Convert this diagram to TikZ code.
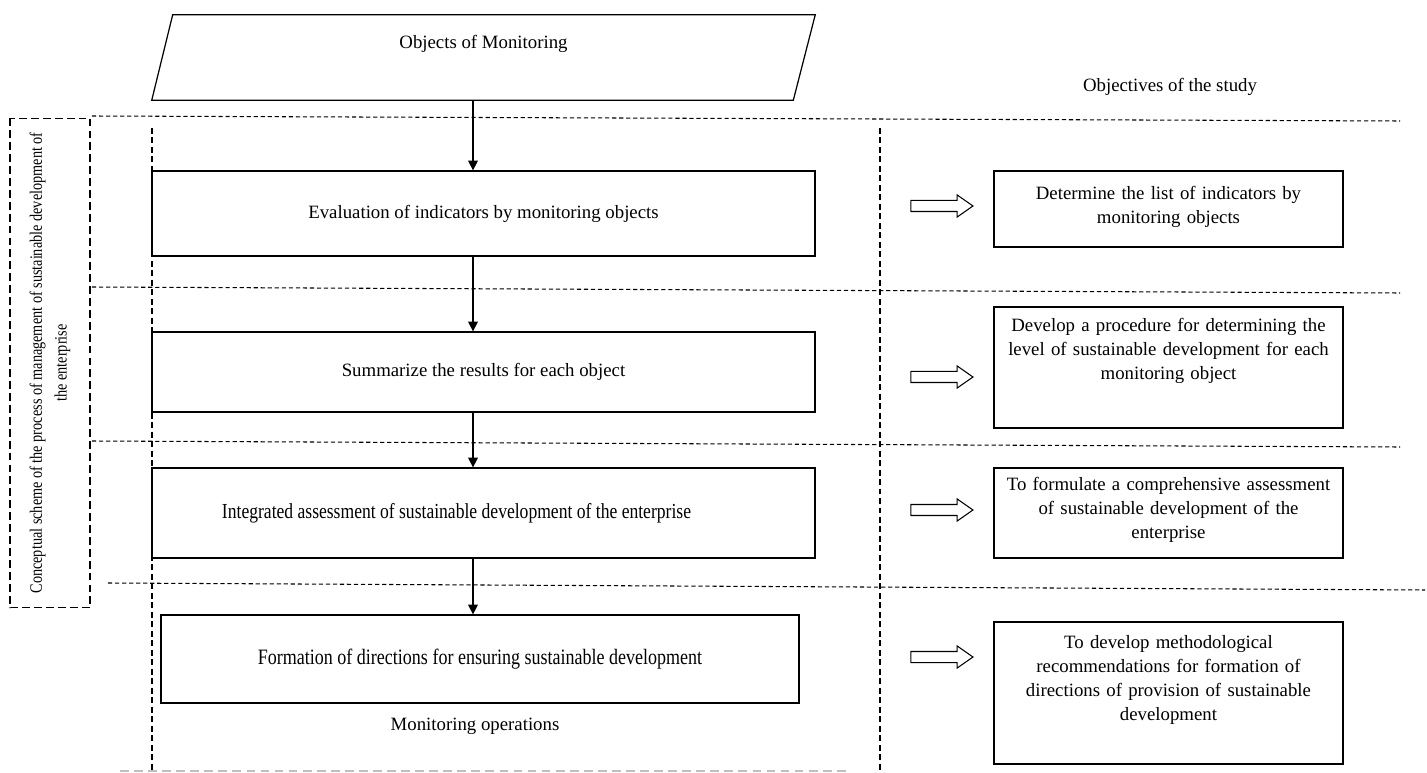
\documentclass[tikz,border=0pt]{standalone}
\usepackage{fontspec}
\setmainfont{Liberation Serif}
\newfontfamily\narrowfont[FakeStretch=0.82]{Liberation Serif}
\usepackage{tikz}
\usetikzlibrary{shapes.geometric, shapes.arrows, arrows.meta, positioning}

\tikzstyle{source} = [rectangle, minimum width=13.26cm, minimum height=1.7cm, inner sep=0pt, font=\fontsize{10.7}{13.7}\selectfont, text height=0.25cm, text depth=0.62cm]
\tikzstyle{stage} = [rectangle, draw, line width=0.7pt, minimum width=13.26cm, inner sep=0pt, font=\fontsize{10.7}{13.7}\selectfont]
\tikzstyle{narrow} = [font=\narrowfont\fontsize{12.2}{14}\selectfont]
\tikzstyle{goal} = [rectangle, draw, line width=0.7pt, minimum width=6.98cm, text width=6.7cm, align=center, inner sep=3pt, font=\fontsize{10.7}{13.7}\selectfont]
\tikzstyle{hollow} = [single arrow, draw, fill=white, line width=0.6pt, minimum height=1.24cm, minimum width=0.42cm, single arrow head extend=0.11cm, single arrow tip angle=70, inner xsep=0pt, inner ysep=0.1cm]
\tikzstyle{caption} = [font=\fontsize{10.7}{13.7}\selectfont]
\tikzstyle{flow} = [line width=0.6pt, -{Triangle[length=5.5pt, width=5.5pt]}]
\tikzstyle{sep} = [line width=0.6pt, dash pattern=on 2.4pt off 1.6pt]
\tikzstyle{lane} = [line width=0.6pt, dash pattern=on 3.4pt off 2pt]

% extra room under the last line of an objective
\newcommand{\gap}[1]{\rule[-#1]{0pt}{#1}}

\begin{document}
\begin{tikzpicture}[x=0.02cm, y=-0.02cm]
    \useasboundingbox (0,0) rectangle (1427,773);

    % Objects and headings
    \node (src) [source] at (483.5,57.5) {Objects of Monitoring};
    \draw [line width=0.7pt] (src.south west) -- ([xshift=0.42cm]src.north west) -- (src.north east) -- ([xshift=-0.44cm]src.south east) -- cycle;
    \coordinate (axis) at ([xshift=-0.21cm]src.south);
    \node (obj) [caption] at (1170,87) {Objectives of the study};

    % Frame of the whole scheme
    \node (frame) [draw, rotate=90, line width=0.6pt, dash pattern=on 4.5pt off 2.3pt, minimum width=9.8cm, minimum height=1.6cm, align=center, font=\narrowfont\fontsize{9.9}{14.2}\selectfont] at (50,363)
        {Conceptual scheme of the process of management of sustainable development of\\the enterprise};

    % Row separators and lanes
    \draw [sep] (92,116) -- (1400,121);
    \draw [sep] (92,287) -- (1400,293);
    \draw [sep] (92,441) -- (1400,447);
    \draw [sep] (108,583) -- (1425,590);
    \draw [lane] (152,128) -- (152,773);
    \draw [lane] (880,128) -- (880,773);
    \draw [line width=0.6pt, gray!50, dash pattern=on 5pt off 3pt] (120,771) -- (850,771);

    % Monitoring operations
    \node (ev) [stage, minimum height=1.7cm] at (483.5,213.5) {Evaluation of indicators by monitoring objects};
    \node (sum) [stage, minimum height=1.6cm] at (483.5,372) {Summarize the results for each object};
    \node (ia) [stage, narrow, minimum height=1.8cm] at (483.5,513) {Integrated assessment of sustainable development of the enterprise\hspace*{1.08cm}};
    \node (fd) [stage, narrow, font=\narrowfont\fontsize{12.5}{14}\selectfont, minimum width=12.76cm, minimum height=1.76cm] at (480,659) {Formation of directions for ensuring sustainable development};
    \node (ops) [caption] at (475,726) {Monitoring operations};

    % Flow between the operations
    \draw [flow] (axis) -- (axis |- ev.north);
    \draw [flow] (ev.south -| axis) -- (sum.north -| axis);
    \draw [flow] (sum.south -| axis) -- (ia.north -| axis);
    \draw [flow] (ia.south -| axis) -- (fd.north -| axis);

    % Objectives
    \node (ha1) [hollow] at (938,206) {};
    \node (ha2) [hollow] at (938,377) {};
    \node (ha3) [hollow] at (938,510) {};
    \node (ha4) [hollow] at (938,657) {};

    \node (g1) [goal, minimum height=1.52cm] at (1168.5,209)
        {Determine the list of indicators by\\monitoring objects\gap{0.17cm}};
    \node (g2) [goal, minimum height=2.42cm] at (1168.5,367.5)
        {Develop a procedure for determining the\\level of sustainable development for each\\monitoring object\gap{0.73cm}};
    \node (g3) [goal, minimum height=1.8cm] at (1168.5,513)
        {To formulate a comprehensive assessment\\of sustainable development of the\\enterprise\gap{0.21cm}};
    \node (g4) [goal, minimum height=2.84cm] at (1168.5,693)
        {To develop methodological\\recommendations for formation of\\directions of provision of sustainable\\development\gap{0.61cm}};

\end{tikzpicture}
\end{document}
